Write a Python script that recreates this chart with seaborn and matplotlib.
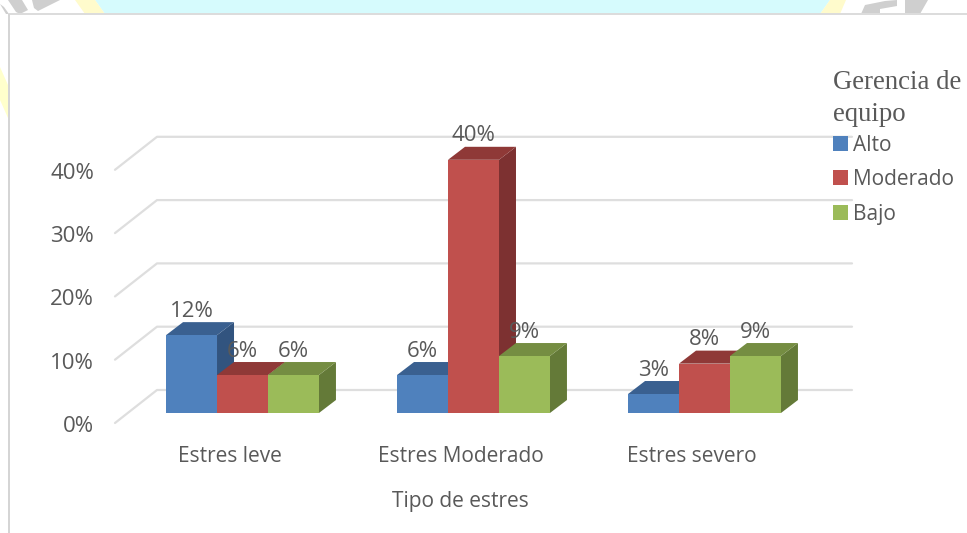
import matplotlib
matplotlib.use("Agg")
import matplotlib.pyplot as plt
import pandas as pd
import seaborn as sns
from matplotlib.patches import Polygon, Rectangle
from matplotlib.transforms import ScaledTranslation

categories = ["Estres leve", "Estres Moderado", "Estres severo"]
alto = [12.3, 6, 3]
moderado = [6, 40, 7.8]
bajo = [6, 9, 9]
series_names = ["Alto", "Moderado", "Bajo"]
y_ticks = [0, 10, 20, 30, 40]
front = ["#4F81BD", "#C0504D", "#9BBB59"]
top_c = ["#3A6090", "#8F3937", "#758D42"]
side_c = ["#32547F", "#7D3131", "#647A38"]
TXT = "#595959"
GRID = "#DEDEDE"

W, H = 967, 533
sns.set_theme(style="white")
plt.rcParams["font.family"] = ["Open Sans", "DejaVu Sans"]

fig = plt.figure(figsize=(W / 100, H / 100), dpi=100, facecolor="white")
L, R, B, T = 115, 852, 413, 137
ax = fig.add_axes([L / W, 1 - B / H, (R - L) / W, (B - T) / H])
PX_X, PX_Y, X0 = 231.0, 6.33, 242.5
ax.patch.set_alpha(0)


def px_rect(x0, y0, x1, y1, color, z=0):
    fig.add_artist(Rectangle((x0 / W, 1 - y1 / H), (x1 - x0) / W, (y1 - y0) / H,
                             transform=fig.transFigure, color=color, lw=0, zorder=z))


def px_poly(pts, color, z=0):
    fig.add_artist(Polygon([(x / W, 1 - y / H) for x, y in pts], closed=True,
                           transform=fig.transFigure, color=color, lw=0, zorder=z))


# page background strip behind the chart
px_poly([(95, 0), (830, 0), (820, 14), (105, 14)], "#D6FBFD")
px_poly([(75, 0), (95, 0), (105, 14), (85, 14)], "#FFFBCC")
px_poly([(830, 0), (846, 0), (840, 14), (820, 14)], "#FFFBCC")
px_poly([(0, 67), (8, 85), (8, 118), (0, 100)], "#FFFFCC")
grey = "#CFCFCF"
px_poly([(0, 4), (4, 7), (9, 14), (6, 14)], grey)
px_poly([(8, 0), (22, 0), (28, 10), (20, 14), (16, 12)], grey)
px_poly([(32, 0), (60, 0), (38, 11), (34, 8)], grey)
px_poly([(861, 14), (865, 5), (885, 1), (897, 0), (897, 6), (880, 9), (880, 14)], grey)
px_poly([(905, 0), (928, 0), (920, 14), (905, 14)], grey)
px_rect(8, 13, W, 15, "#DCDCDC")
px_rect(8, 14, 10, H, "#D5D5D5")

df = pd.DataFrame({
    "cat": categories * 3,
    "val": alto + moderado + bajo,
    "serie": sum([[n] * 3 for n in series_names], []),
})
sns.barplot(data=df, x="cat", y="val", hue="serie", hue_order=series_names,
            order=categories, palette=front, width=0.662, gap=0, saturation=1,
            linewidth=0, ax=ax, zorder=5)

ax.set_xlim((L - X0) / PX_X, (R - X0) / PX_X)
ax.set_ylim(0, (B - T) / PX_Y)
dx, dy = 17 / PX_X, 13 / PX_Y

# walls: grid on the back plane and its slanted run to the front
back = 23 / PX_Y
front_off = -10 / PX_Y
wall_x = (157 - X0) / PX_X
x_front = (L - X0) / PX_X
for v in y_ticks:
    ax.plot([x_front, wall_x, (R - X0) / PX_X],
            [v + front_off, v + back, v + back],
            color=GRID, lw=1.6, clip_on=False, zorder=1)

# 3D faces built from the bars seaborn drew
bars = []
for s, cont in enumerate(ax.containers):
    for bar in cont:
        bars.append((bar.get_x(), s, bar))
bars.sort(key=lambda t: (t[0]))
z = 5
for xpos, s, bar in bars:
    x0, w, h = bar.get_x(), bar.get_width(), bar.get_height()
    x1 = x0 + w
    ax.add_patch(Polygon([(x1, 0), (x1 + dx, dy), (x1 + dx, h + dy), (x1, h)],
                         closed=True, color=side_c[s], lw=0, zorder=z, clip_on=False))
    ax.add_patch(Polygon([(x0, h), (x0 + dx, h + dy), (x1 + dx, h + dy), (x1, h)],
                         closed=True, color=top_c[s], lw=0, zorder=z + 0.1, clip_on=False))
    bar.set_zorder(z + 0.2)
    ax.text(x0 + w / 2, h + 24 / PX_Y, f"{h:.0f}%", ha="center", va="center",
            fontsize=16, color=TXT, zorder=50, clip_on=False)
    z += 1

for sp in ax.spines.values():
    sp.set_visible(False)
ax.tick_params(axis="y", length=0, labelsize=16, labelcolor=TXT, pad=15)
ax.tick_params(axis="x", length=0, labelsize=15, labelcolor=TXT, pad=24)
ax.set_yticks(y_ticks)
ax.set_yticklabels([f"{v}%" for v in y_ticks])
shift_y = ScaledTranslation(0, -11 / 100, fig.dpi_scale_trans)
for lab in ax.get_yticklabels():
    lab.set_transform(lab.get_transform() + shift_y)
shift_x = ScaledTranslation(-12.5 / 100, 0, fig.dpi_scale_trans)
for lab in ax.get_xticklabels():
    lab.set_transform(lab.get_transform() + shift_x)
ax.set_xlabel("Tipo de estres", fontsize=15, color=TXT)
ax.set_ylabel("")
ax.xaxis.set_label_coords((460 - L) / (R - L), -88 / (B - T), transform=ax.transAxes)
ax.xaxis.label.set_va("center")

handles = [Rectangle((0, 0), 1, 1, color=c, lw=0) for c in front]
ax.legend(handles, series_names, title="Gerencia de\nequipo",
          title_fontproperties={"family": "Liberation Serif", "size": 19.3},
          alignment="left", frameon=False, fontsize=15, labelcolor=TXT,
          handlelength=0.7, handleheight=0.7, handletextpad=0.27, labelspacing=0.65,
          borderpad=0, borderaxespad=0, loc="upper left",
          bbox_to_anchor=(833 / W, 1 - 70 / H), bbox_transform=fig.transFigure)
leg = ax.get_legend()
leg.get_title().set_color(TXT)
leg.get_title().set_linespacing(1.37)
leg._legend_box.sep = 5.4
leg.set_zorder(60)

fig.savefig("out.png", dpi=100)
